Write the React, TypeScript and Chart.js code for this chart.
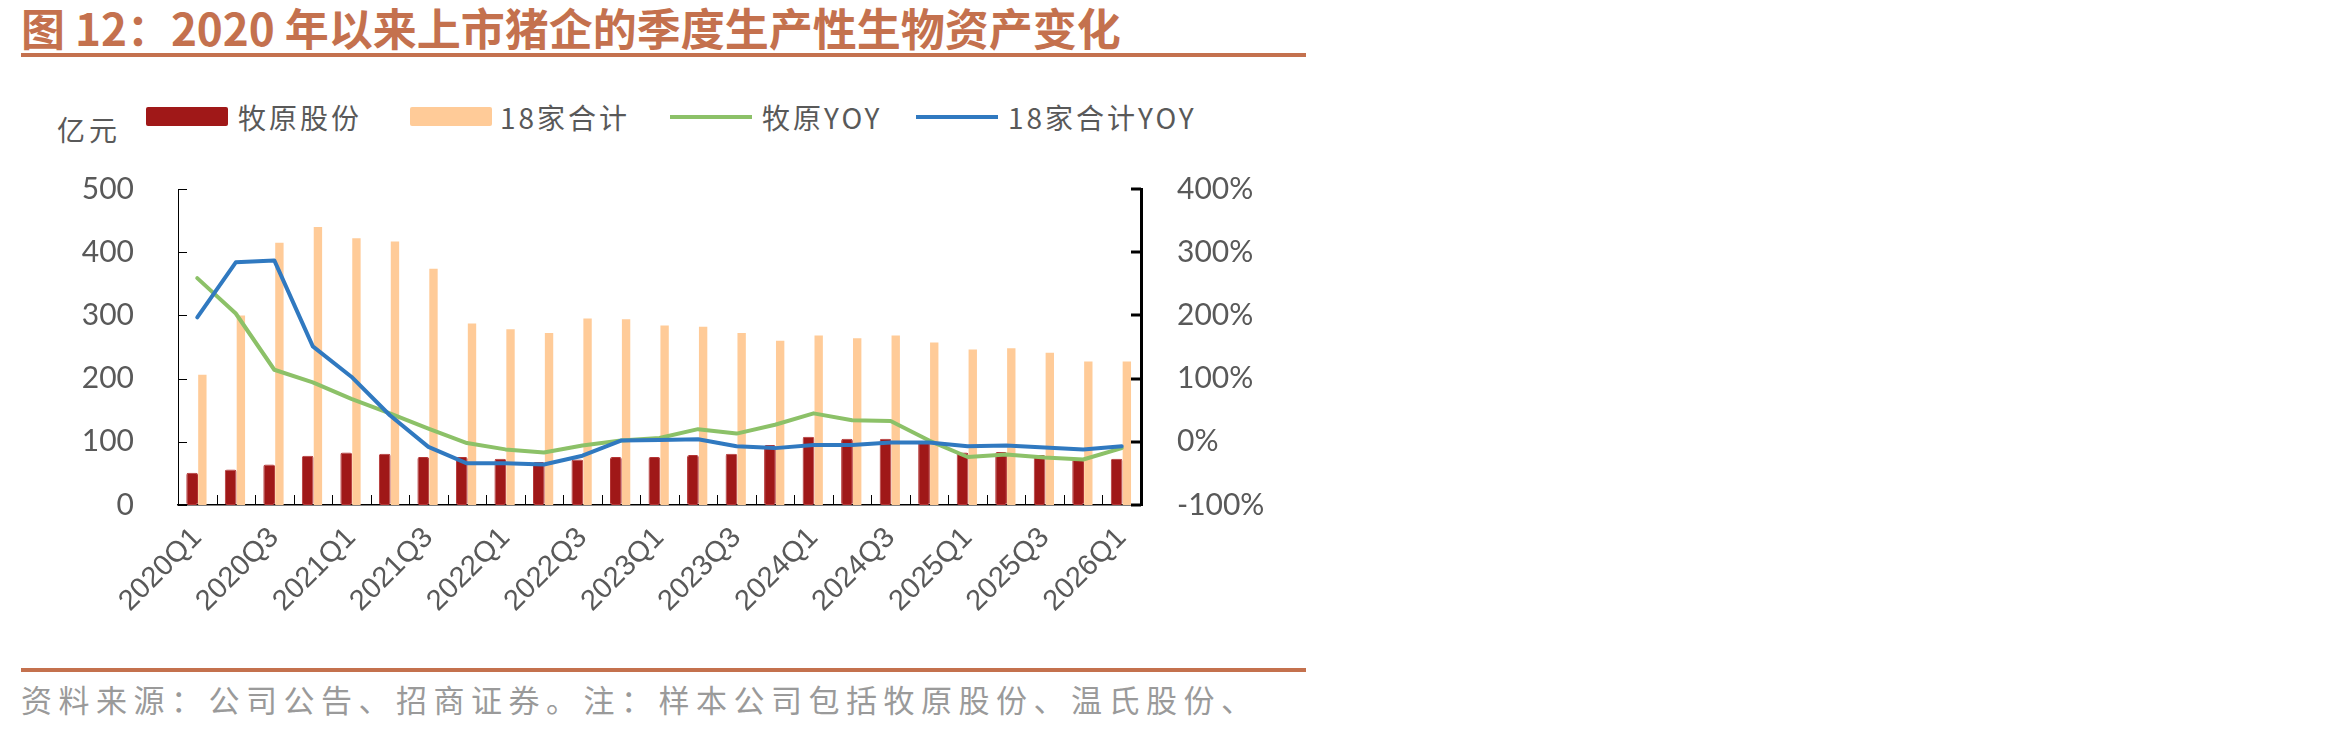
import React, { useEffect, useRef } from "react";
import { Chart, registerables } from "chart.js";

Chart.register(...registerables);

const categories = [
  "2020Q1", "2020Q2", "2020Q3", "2020Q4",
  "2021Q1", "2021Q2", "2021Q3", "2021Q4",
  "2022Q1", "2022Q2", "2022Q3", "2022Q4",
  "2023Q1", "2023Q2", "2023Q3", "2023Q4",
  "2024Q1", "2024Q2", "2024Q3", "2024Q4",
  "2025Q1", "2025Q2", "2025Q3", "2025Q4",
  "2026Q1",
];

// 亿元
const muyuanAssets = [51, 56, 64, 78, 83, 81, 76, 76, 73, 68, 72, 76, 76, 79, 81, 95, 108, 105, 105, 100, 83, 84, 79, 72, 73];
const total18Assets = [206, 300, 415, 440, 422, 417, 374, 287, 278, 272, 295, 294, 284, 282, 272, 260, 268, 264, 268, 257, 246, 248, 241, 227, 227];

// %
const muyuanYoY = [259, 203, 114, 94, 68, 45, 21, -2, -12, -17, -6, 2, 6, 20, 13, 27, 45, 34, 33, 2, -24, -20, -25, -28, -10];
const total18YoY = [197, 284, 287, 151, 103, 42, -8, -34, -34, -36, -22, 2, 3, 4, -7, -10, -5, -5, -1, -1, -7, -6, -9, -12, -7];

const seriesNames = ["牧原股份", "18家合计", "牧原YOY", "18家合计YOY"];

const titleText = "图 12：2020 年以来上市猪企的季度生产性生物资产变化";
const unitText = "亿元";
const sourceText = "资料来源：公司公告、招商证券。注：样本公司包括牧原股份、温氏股份、";

const RED = "#A01818";
const ORANGE = "#FFCB98";
const GREEN = "#8CC168";
const BLUE = "#3079C0";
const TEXT = "#595959";
const ACCENT = "#C4714E";

const tickMarks = {
  id: "tickMarks",
  afterDraw(chart: any) {
    const { ctx, chartArea } = chart;
    const x = chart.scales.x;
    const y = chart.scales.y;
    const y1 = chart.scales.y1;
    ctx.save();
    ctx.strokeStyle = "#000";
    ctx.lineWidth = 1;
    const n = chart.data.labels.length;
    const half = (x.getPixelForValue(1) - x.getPixelForValue(0)) / 2;
    for (let i = 1; i < n; i++) {
      const px = Math.round(x.getPixelForValue(i) - half) + 0.5;
      ctx.beginPath();
      ctx.moveTo(px, chartArea.bottom);
      ctx.lineTo(px, chartArea.bottom - 10);
      ctx.stroke();
    }
    y.ticks.forEach((t: any) => {
      const py = Math.round(y.getPixelForValue(t.value)) + 0.5;
      ctx.beginPath();
      ctx.moveTo(chartArea.left, py);
      ctx.lineTo(chartArea.left + 9, py);
      ctx.stroke();
    });
    ctx.lineWidth = 3;
    y1.ticks.forEach((t: any) => {
      const py = Math.round(y1.getPixelForValue(t.value));
      ctx.beginPath();
      ctx.moveTo(chartArea.right - 10, py);
      ctx.lineTo(chartArea.right, py);
      ctx.stroke();
    });
    ctx.restore();
  },
};

function ChartBox() {
  const ref = useRef<HTMLCanvasElement | null>(null);
  useEffect(() => {
    if (!ref.current) return;
    const chart = new Chart(ref.current, {
      data: {
        labels: categories,
        datasets: [
          {
            type: "line",
            label: seriesNames[2],
            data: muyuanYoY,
            yAxisID: "y1",
            borderColor: GREEN,
            backgroundColor: GREEN,
            borderWidth: 4,
            borderCapStyle: "round",
            borderJoinStyle: "round",
            pointRadius: 0,
            tension: 0,
            order: 1,
          },
          {
            type: "line",
            label: seriesNames[3],
            data: total18YoY,
            yAxisID: "y1",
            borderColor: BLUE,
            backgroundColor: BLUE,
            borderWidth: 4,
            borderCapStyle: "round",
            borderJoinStyle: "round",
            pointRadius: 0,
            tension: 0,
            order: 0,
          },
          {
            type: "bar",
            label: seriesNames[0],
            data: muyuanAssets,
            yAxisID: "y",
            backgroundColor: RED,
            borderColor: "#B43434",
            borderWidth: 1,
            borderRadius: 2,
            borderSkipped: false,
            barPercentage: 1.15,
            categoryPercentage: 0.53,
            order: 3,
          },
          {
            type: "bar",
            label: seriesNames[1],
            data: total18Assets,
            yAxisID: "y",
            backgroundColor: ORANGE,
            barPercentage: 0.82,
            categoryPercentage: 0.53,
            order: 3,
          },
        ],
      } as any,
      options: {
        animation: false,
        responsive: false,
        layout: { padding: 0 },
        plugins: { legend: { display: false }, tooltip: { enabled: false } },
        scales: {
          x: {
            type: "category",
            offset: true,
            grid: { display: false, drawTicks: false, offset: true },
            border: { display: true, color: "#000", width: 1.5 },
            ticks: {
              autoSkip: false,
              maxRotation: 45,
              minRotation: 45,
              padding: 16,
              color: TEXT,
              font: { family: "'Liberation Sans', Arial, sans-serif", size: 29 },
              callback: (_v: any, i: number) => (i % 2 === 0 ? categories[i] : ""),
            },
            afterFit: (s: any) => {
              s.height = 125;
            },
          },
          y: {
            position: "left",
            min: 0,
            max: 500,
            grid: { display: false, drawTicks: false },
            border: { display: true, color: "#000", width: 1 },
            ticks: {
              stepSize: 100,
              padding: 44,
              color: TEXT,
              font: { family: "Lato, 'Open Sans', sans-serif", size: 30 },
            },
            afterFit: (s: any) => {
              s.width = 178;
            },
          },
          y1: {
            position: "right",
            min: -100,
            max: 400,
            grid: { display: false, drawTicks: false },
            border: { display: true, color: "#000", width: 3 },
            ticks: {
              stepSize: 100,
              padding: 36,
              color: TEXT,
              font: { family: "Lato, 'Open Sans', sans-serif", size: 30 },
              callback: (v: any) => v + "%",
            },
            afterFit: (s: any) => {
              s.width = 179;
            },
          },
        },
      } as any,
      plugins: [tickMarks],
    });
    return () => chart.destroy();
  }, []);
  return (
    <canvas
      ref={ref}
      width={1320}
      height={503}
      style={{ position: "absolute", left: 0, top: 127, width: 1320, height: 503 }}
    />
  );
}

const legendItems = [
  { name: seriesNames[0], kind: "box", color: RED, left: 146, textLeft: 238 },
  { name: seriesNames[1], kind: "box", color: ORANGE, left: 410, textLeft: 500 },
  { name: seriesNames[2], kind: "line", color: GREEN, left: 670, textLeft: 762 },
  { name: seriesNames[3], kind: "line", color: BLUE, left: 916, textLeft: 1008 },
];

const cjk = "'Noto Sans CJK SC', 'Noto Sans', sans-serif";

export default function App() {
  useEffect(() => {
    document.body.style.margin = "0";
  }, []);
  return (
    <div style={{ position: "relative", width: 2350, height: 730, background: "#fff", overflow: "hidden" }}>
      <div
        style={{
          position: "absolute",
          left: 21,
          top: 0,
          height: 54,
          lineHeight: "54px",
          fontFamily: cjk,
          fontWeight: 700,
          fontSize: 44,
          color: ACCENT,
          whiteSpace: "nowrap",
        }}
      >
        {titleText}
      </div>
      <div style={{ position: "absolute", left: 21, top: 53, width: 1285, height: 4, background: ACCENT }} />
      <div
        style={{
          position: "absolute",
          left: 57,
          top: 112,
          lineHeight: "34px",
          fontFamily: cjk,
          fontSize: 28,
          color: TEXT,
          letterSpacing: 4,
          whiteSpace: "nowrap",
        }}
      >
        {unitText}
      </div>
      {legendItems.map((it) => (
        <React.Fragment key={it.name}>
          {it.kind === "box" ? (
            <div
              style={{
                position: "absolute",
                left: it.left,
                top: 107,
                width: 82,
                height: 19,
                background: it.color,
                borderRadius: 2,
              }}
            />
          ) : (
            <div
              style={{
                position: "absolute",
                left: it.left,
                top: 115,
                width: 82,
                height: 4,
                background: it.color,
              }}
            />
          )}
          <div
            style={{
              position: "absolute",
              left: it.textLeft,
              top: 100,
              lineHeight: "34px",
              fontFamily: cjk,
              fontSize: 28,
              color: TEXT,
              letterSpacing: 3,
              whiteSpace: "nowrap",
            }}
          >
            {it.name}
          </div>
        </React.Fragment>
      ))}
      <ChartBox />
      <div style={{ position: "absolute", left: 21, top: 668, width: 1285, height: 4, background: ACCENT }} />
      <div
        style={{
          position: "absolute",
          left: 21,
          top: 680,
          lineHeight: "38px",
          fontFamily: cjk,
          fontSize: 31,
          color: "#9A9A9A",
          letterSpacing: 6.5,
          whiteSpace: "nowrap",
        }}
      >
        {sourceText}
      </div>
    </div>
  );
}
